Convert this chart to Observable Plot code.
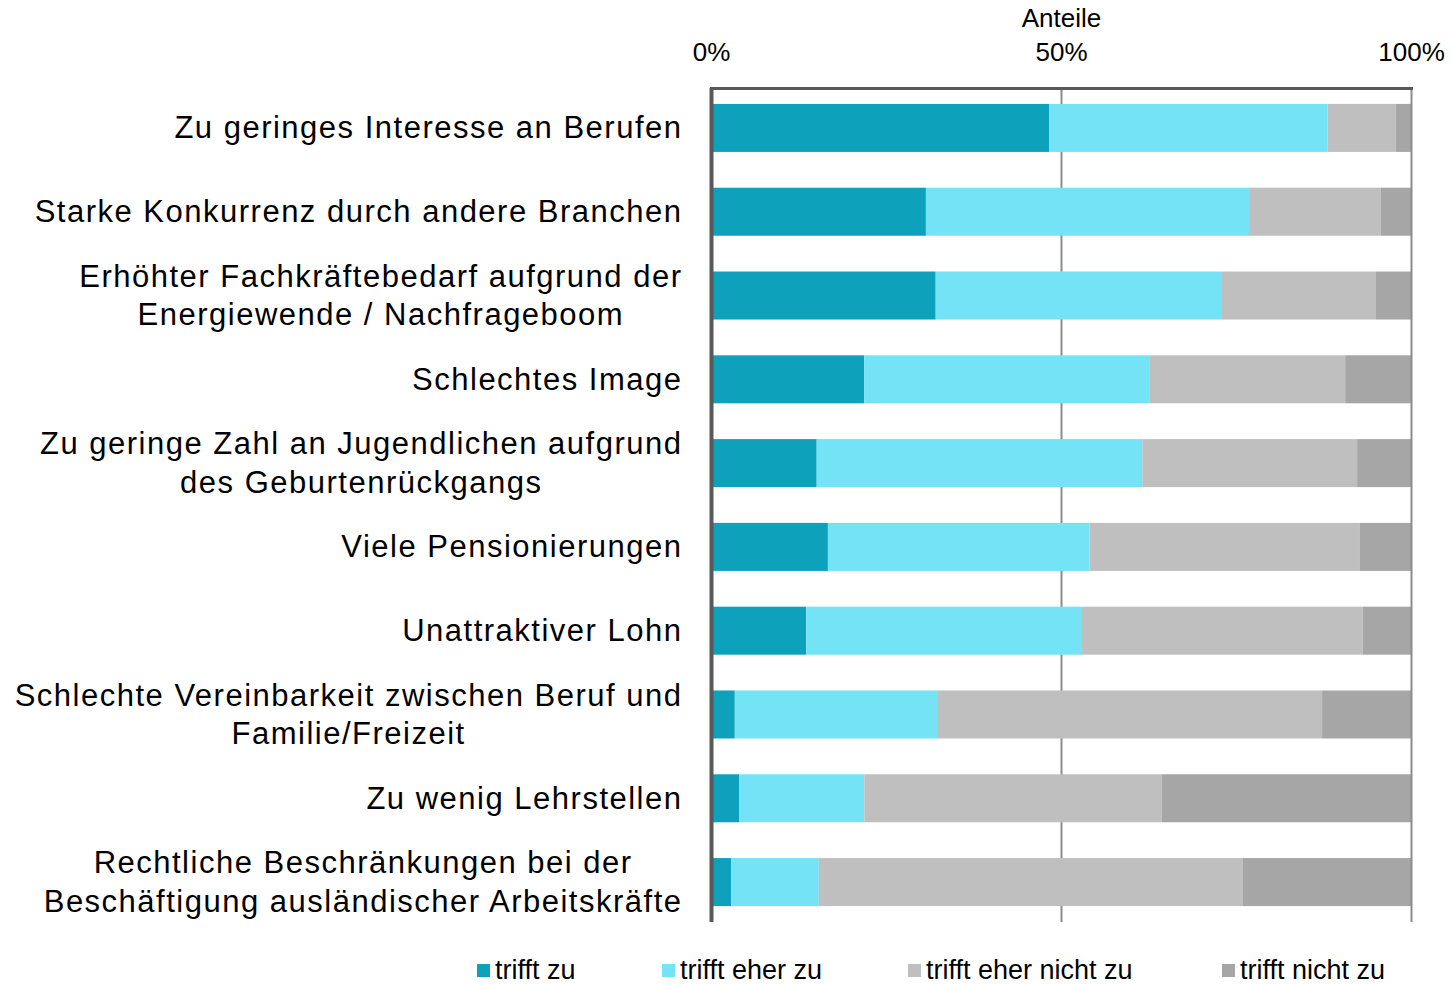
<!DOCTYPE html>
<html><head><meta charset="utf-8">
<script src="https://cdn.jsdelivr.net/npm/d3@7"></script>
<script src="https://cdn.jsdelivr.net/npm/@observablehq/plot@0.6"></script>
<style>
body{margin:0;background:#fff;font-family:"Liberation Sans",Arial,sans-serif;}
#chart{position:relative;width:1451px;height:984px;overflow:hidden;}
#chart svg{display:block;}
g[aria-label="y-axis tick label"] text{letter-spacing:1.5px;}
#legend{position:absolute;left:0;top:955px;width:1451px;height:30px;font-size:27px;color:#000;}
.item{position:absolute;top:0;height:30px;display:flex;align-items:center;white-space:nowrap;}
.sw{width:13px;height:13px;margin-right:5px;}
</style></head><body><div id="chart"></div>
<script>
const categories = [
  "Zu geringes Interesse an Berufen",
  "Starke Konkurrenz durch andere Branchen",
  "Erhöhter Fachkräftebedarf aufgrund der\nEnergiewende / Nachfrageboom",
  "Schlechtes Image",
  "Zu geringe Zahl an Jugendlichen aufgrund\ndes Geburtenrückgangs",
  "Viele Pensionierungen",
  "Unattraktiver Lohn",
  "Schlechte Vereinbarkeit zwischen Beruf und\nFamilie/Freizeit",
  "Zu wenig Lehrstellen",
  "Rechtliche Beschränkungen bei der\nBeschäftigung ausländischer Arbeitskräfte"
];
const trifftZu      = [48.3, 30.7, 32.1, 21.9, 15.1, 16.7, 13.6, 3.4, 4.0, 2.9];
const trifftEherZu  = [39.8, 46.3, 40.9, 40.8, 46.5, 37.4, 39.4, 28.9, 17.9, 12.5];
const trifftEherNicht = [9.7, 18.7, 22.0, 27.9, 30.7, 38.6, 40.1, 55.0, 42.5, 60.6];
const trifftNicht   = [2.2, 4.3, 5.0, 9.4, 7.7, 7.3, 6.9, 12.7, 35.6, 24.0];
const keys = ["trifft zu", "trifft eher zu", "trifft eher nicht zu", "trifft nicht zu"];
const colors = ["#0ea1bb", "#75e3f6", "#bfbfbf", "#a6a6a6"];
const xTicks = [0, 50, 100];
const axisTitle = "Anteile";

const series = [trifftZu, trifftEherZu, trifftEherNicht, trifftNicht];
const rows = categories.flatMap((c, i) => keys.map((k, j) => ({category: c, response: k, value: series[j][i]})));

const plot = Plot.plot({
  width: 1451, height: 942,
  marginLeft: 711, marginRight: 40, marginTop: 88, marginBottom: 20,
  style: {fontFamily: "'Liberation Sans', Arial, sans-serif", fontSize: "26px", color: "#000", background: "#fff"},
  x: {domain: [0, 100]},
  y: {domain: categories, paddingInner: 0.427, paddingOuter: 0.19, round: false},
  color: {domain: keys, range: colors},
  marks: [
    Plot.ruleX([50], {stroke: "#8c8c8c", strokeWidth: 2}),
    Plot.barX(rows, {x: "value", y: "category", fill: "response", order: keys}),
    Plot.ruleX([100], {stroke: "#8c8c8c", strokeWidth: 2}),
    Plot.frame({anchor: "top", stroke: "#595959", strokeWidth: 3}),
    Plot.ruleX([0], {stroke: "#595959", strokeWidth: 4}),
    Plot.axisX({anchor: "top", ticks: xTicks, tickFormat: d => d + "%", tickSize: 0, tickPadding: 28, fontSize: 26, label: axisTitle, labelAnchor: "center", labelArrow: "none", labelOffset: 80}),
    Plot.axisY({tickSize: 0, tickPadding: 29, fontSize: 31, label: null})
  ]
});
const chart = document.getElementById("chart");
chart.appendChild(plot);

plot.querySelectorAll('g[aria-label="y-axis tick label"] text').forEach(t => {
  const ts = t.querySelectorAll("tspan");
  if (ts.length < 2) return;
  const b0 = t.getBBox();
  const c0 = b0.y + b0.height / 2;
  ts.forEach((s, i) => { if (i > 0) s.setAttribute("dy", "1.25em"); });
  const b1 = t.getBBox();
  const c1 = b1.y + b1.height / 2;
  const w = b1.width;
  t.setAttribute("text-anchor", "middle");
  ts.forEach(s => s.setAttribute("x", -w / 2));
  t.setAttribute("transform", (t.getAttribute("transform") || "") + ` translate(0,${c0 - c1})`);
});

const legend = document.createElement("div");
legend.id = "legend";
const lefts = [477, 662, 908, 1222];
keys.forEach((k, i) => {
  const it = document.createElement("div");
  it.className = "item";
  it.style.left = lefts[i] + "px";
  const sw = document.createElement("span");
  sw.className = "sw";
  sw.style.background = colors[i];
  const tx = document.createElement("span");
  tx.textContent = k;
  it.appendChild(sw); it.appendChild(tx);
  legend.appendChild(it);
});
chart.appendChild(legend);
</script>
</body></html>
